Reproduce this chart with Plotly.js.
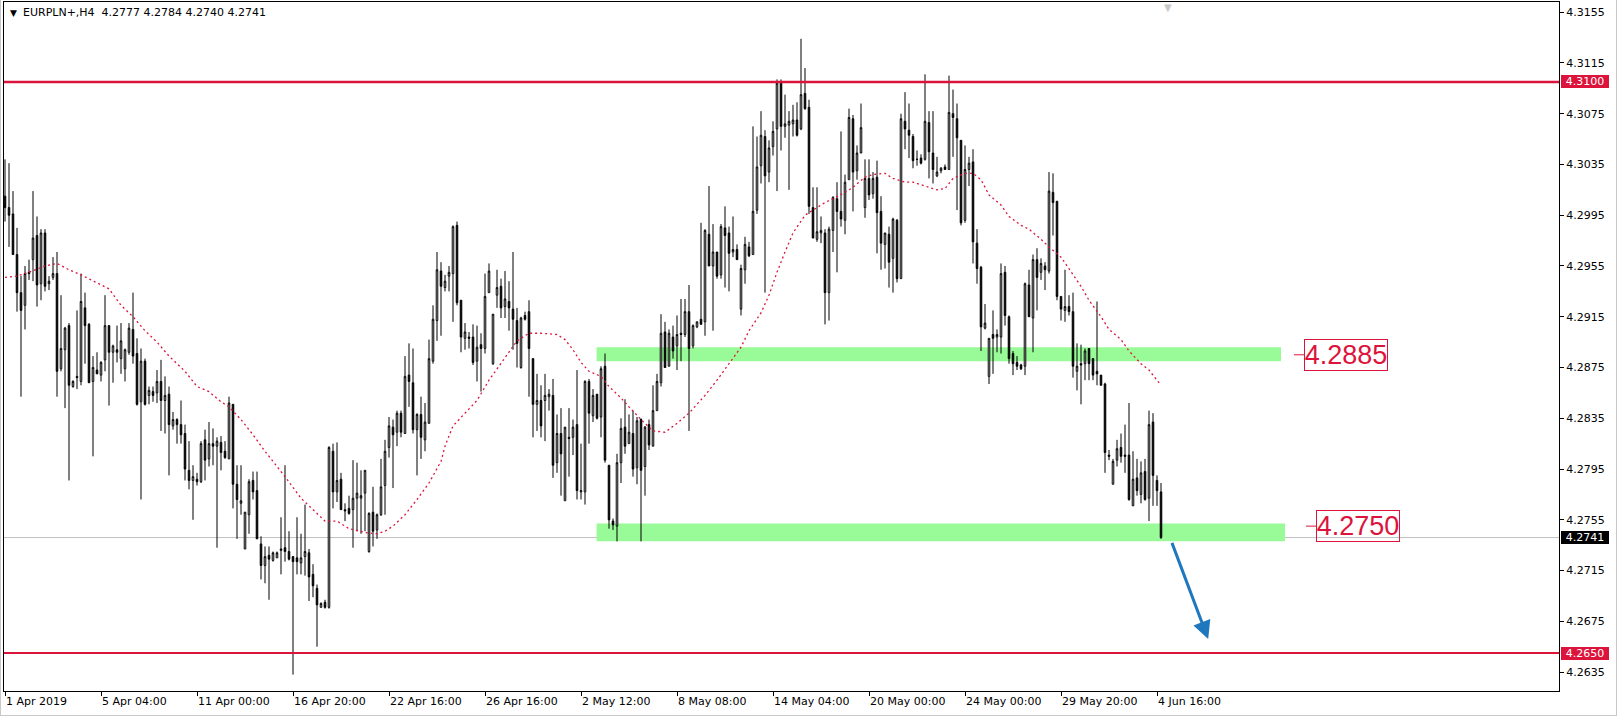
<!DOCTYPE html>
<html><head><meta charset="utf-8">
<script src="https://cdn.plot.ly/plotly-3.0.1.min.js"></script>
<style>
html,body{margin:0;padding:0;background:#fff;}
#wrap{position:relative;width:1618px;height:717px;overflow:hidden;}
#chart{position:absolute;left:0;top:0;width:1618px;height:717px;}
#frame{position:absolute;left:0;top:0;width:1617px;height:716px;box-sizing:border-box;border:1px solid #c8c8c8;border-top:none;pointer-events:none;}
</style></head><body>
<div id="wrap"><div id="chart"></div><div id="frame"></div></div>
<script>
const symbolName = 'EURPLN+,H4';

const openP = [
4.3010,4.3001,4.2996,4.2964,4.2934,4.2924,4.2950,4.2960,4.2979,4.2941,
4.2981,4.2941,4.2946,4.2949,4.2874,4.2889,4.2908,4.2860,4.2868,4.2864,
4.2922,4.2909,4.2864,4.2873,4.2869,4.2881,4.2908,4.2887,4.2889,4.2882,
4.2874,4.2887,4.2905,4.2886,4.2848,4.2880,4.2853,4.2856,4.2855,4.2864,
4.2849,4.2854,4.2829,4.2834,4.2830,4.2823,4.2794,4.2786,4.2787,4.2785,
4.2818,4.2803,4.2815,4.2813,4.2816,4.2809,4.2803,4.2846,4.2783,4.2768,
4.2732,4.2759,4.2786,4.2778,4.2736,4.2719,4.2727,4.2723,4.2725,4.2732,
4.2733,4.2730,4.2726,4.2725,4.2721,4.2726,4.2729,4.2712,4.2701,4.2686,
4.2690,4.2686,4.2809,4.2777,4.2787,4.2763,4.2764,4.2763,4.2772,4.2772,
4.2776,4.2730,4.2761,4.2747,4.2759,4.2782,4.2812,4.2828,4.2824,4.2839,
4.2823,4.2869,4.2863,4.2826,4.2838,4.2818,4.2831,4.2880,4.2912,4.2951,
4.2938,4.2947,4.2949,4.2987,4.2928,4.2898,4.2899,4.2899,4.2880,4.2893,
4.2890,4.2934,4.2878,4.2932,4.2939,4.2923,4.2927,4.2921,4.2912,4.2875,
4.2916,4.2919,4.2882,4.2846,4.2849,4.2849,4.2852,4.2853,4.2800,4.2823,
4.2770,4.2820,4.2820,4.2830,4.2777,4.2777,4.2864,4.2837,4.2854,4.2836,
4.2876,4.2798,4.2754,4.2750,4.2800,4.2828,4.2815,4.2823,4.2796,4.2834,
4.2797,4.2830,4.2813,4.2841,4.2863,4.2903,4.2876,4.2899,4.2892,4.2902,
4.2901,4.2919,4.2892,4.2907,4.2913,4.2911,4.2980,4.2955,4.2966,4.2948,
4.2985,4.2981,4.2966,4.2968,4.2921,4.2952,4.2970,4.2964,4.2999,4.3034,
4.3057,4.3029,4.3049,4.3063,4.3100,4.3065,4.3066,4.3067,4.3070,4.3063,
4.3091,4.3080,4.3001,4.2976,4.2981,4.2981,4.2934,4.2983,4.3008,4.2998,
4.2991,4.3023,4.3071,4.3030,4.3044,4.3001,4.3024,4.3012,4.3025,4.2998,
4.2972,4.2980,4.2961,4.2991,4.2945,4.3069,4.3062,4.3057,4.3039,4.3040,
4.3039,4.3068,4.3044,4.3026,4.3030,4.3033,4.3031,4.3075,4.3071,4.3054,
4.2991,4.3031,4.3037,4.2973,4.2954,4.2906,4.2868,4.2901,4.2899,4.2899,
4.2950,4.2915,4.2886,4.2879,4.2877,4.2876,4.2940,4.2914,4.2960,4.2950,
4.2955,4.2951,4.3013,4.3006,4.2931,4.2920,4.2923,4.2919,4.2872,4.2878,
4.2878,4.2890,4.2882,4.2872,4.2869,4.2862,4.2806,4.2783,4.2802,4.2812,
4.2806,4.2806,4.2766,4.2788,4.2775,4.2793,4.2772,4.2832,4.2786,4.2777];

const highP = [
4.3039,4.3036,4.3014,4.2985,4.2947,4.2955,4.2960,4.3014,4.2994,4.2984,
4.2984,4.2947,4.2962,4.2966,4.2932,4.2907,4.2910,4.2865,4.2920,4.2949,
4.2934,4.2910,4.2884,4.2887,4.2880,4.2932,4.2908,4.2893,4.2908,4.2910,
4.2890,4.2910,4.2934,4.2898,4.2890,4.2882,4.2860,4.2860,4.2873,4.2881,
4.2868,4.2860,4.2840,4.2835,4.2849,4.2830,4.2817,4.2798,4.2792,4.2817,
4.2826,4.2832,4.2827,4.2820,4.2821,4.2817,4.2852,4.2846,4.2798,4.2798,
4.2761,4.2787,4.2793,4.2793,4.2742,4.2734,4.2734,4.2730,4.2730,4.2757,
4.2798,4.2746,4.2726,4.2757,4.2744,4.2767,4.2732,4.2720,4.2704,4.2690,
4.2692,4.2813,4.2815,4.2816,4.2792,4.2768,4.2774,4.2802,4.2800,4.2794,
4.2794,4.2761,4.2781,4.2760,4.2803,4.2818,4.2836,4.2834,4.2841,4.2841,
4.2884,4.2894,4.2890,4.2839,4.2852,4.2847,4.2897,4.2924,4.2966,4.2958,
4.2948,4.2955,4.2987,4.2990,4.2928,4.2910,4.2903,4.2909,4.2908,4.2902,
4.2949,4.2957,4.2917,4.2952,4.2945,4.2951,4.2943,4.2966,4.2922,4.2915,
4.2919,4.2928,4.2882,4.2870,4.2861,4.2870,4.2858,4.2866,4.2838,4.2843,
4.2828,4.2843,4.2834,4.2873,4.2815,4.2865,4.2866,4.2858,4.2854,4.2876,
4.2886,4.2798,4.2756,4.2807,4.2835,4.2850,4.2838,4.2841,4.2836,4.2835,
4.2829,4.2834,4.2861,4.2870,4.2917,4.2911,4.2905,4.2908,4.2916,4.2929,
4.2929,4.2940,4.2909,4.2911,4.2989,4.2984,4.3018,4.2988,4.2966,4.2988,
4.3002,4.2986,4.2994,4.2972,4.2956,4.2978,4.2974,4.3065,4.3057,4.3077,
4.3062,4.3054,4.3069,4.3102,4.3102,4.3090,4.3077,4.3082,4.3084,4.3134,
4.3111,4.3086,4.3017,4.3017,4.2994,4.2984,4.2986,4.3010,4.3021,4.3061,
4.3027,4.3079,4.3074,4.3050,4.3083,4.3039,4.3039,4.3029,4.3038,4.3010,
4.2981,4.2986,4.2993,4.2992,4.3075,4.3092,4.3083,4.3059,4.3046,4.3043,
4.3106,4.3077,4.3077,4.3041,4.3033,4.3035,4.3105,4.3094,4.3083,4.3054,
4.3050,4.3041,4.3047,4.2984,4.2955,4.2925,4.2898,4.2920,4.2905,4.2957,
4.2955,4.2916,4.2888,4.2884,4.2878,4.2942,4.2952,4.2964,4.2969,4.2961,
4.2958,4.3029,4.3028,4.3006,4.2931,4.2952,4.2932,4.2934,4.2894,4.2893,
4.2890,4.2890,4.2882,4.2927,4.2869,4.2863,4.2810,4.2803,4.2818,4.2823,
4.2830,4.2847,4.2809,4.2803,4.2801,4.2803,4.2841,4.2839,4.2790,4.2784];

const lowP = [
4.2990,4.2970,4.2964,4.2919,4.2852,4.2905,4.2944,4.2943,4.2923,4.2928,
4.2935,4.2936,4.2944,4.2852,4.2872,4.2843,4.2786,4.2859,4.2858,4.2861,
4.2878,4.2863,4.2805,4.2870,4.2864,4.2872,4.2845,4.2863,4.2879,4.2870,
4.2864,4.2885,4.2878,4.2845,4.2771,4.2845,4.2846,4.2848,4.2847,4.2825,
4.2823,4.2790,4.2826,4.2815,4.2815,4.2786,4.2779,4.2755,4.2782,4.2784,
4.2786,4.2797,4.2798,4.2733,4.2794,4.2803,4.2803,4.2764,4.2740,4.2759,
4.2732,4.2744,4.2771,4.2740,4.2708,4.2705,4.2692,4.2722,4.2725,4.2712,
4.2722,4.2723,4.2633,4.2712,4.2712,4.2711,4.2691,4.2694,4.2655,4.2686,
4.2685,4.2685,4.2764,4.2769,4.2763,4.2754,4.2759,4.2733,4.2746,4.2744,
4.2746,4.2729,4.2734,4.2740,4.2758,4.2759,4.2804,4.2780,4.2813,4.2820,
4.2823,4.2844,4.2823,4.2790,4.2803,4.2809,4.2831,4.2878,4.2896,4.2900,
4.2935,4.2935,4.2911,4.2924,4.2887,4.2889,4.2890,4.2877,4.2864,4.2856,
4.2886,4.2934,4.2877,4.2922,4.2914,4.2914,4.2904,4.2889,4.2875,4.2874,
4.2912,4.2852,4.2820,4.2825,4.2820,4.2817,4.2841,4.2788,4.2792,4.2774,
4.2770,4.2789,4.2806,4.2771,4.2771,4.2767,4.2815,4.2832,4.2834,4.2820,
4.2800,4.2748,4.2747,4.2738,4.2784,4.2807,4.2815,4.2789,4.2783,4.2738,
4.2774,4.2810,4.2813,4.2841,4.2860,4.2875,4.2876,4.2882,4.2873,4.2880,
4.2899,4.2825,4.2890,4.2906,4.2909,4.2900,4.2955,4.2904,4.2945,4.2945,
4.2938,4.2935,4.2962,4.2960,4.2916,4.2941,4.2962,4.2964,4.2996,4.3020,
4.2934,4.3021,4.3042,4.3014,4.3046,4.3056,4.3015,4.3057,4.3057,4.3062,
4.3078,4.2996,4.2977,4.2974,4.2973,4.2909,4.2912,4.2966,4.2950,4.2986,
4.2980,4.3023,4.2998,4.3023,4.3044,4.2993,4.3007,4.3008,4.2965,4.2952,
4.2953,4.2938,4.2934,4.2942,4.2945,4.3047,4.3040,4.3032,4.3034,4.3035,
4.3038,4.3024,4.3020,4.3025,4.3028,4.3031,4.3031,4.3041,4.2999,4.2987,
4.2989,4.3018,4.2957,4.2941,4.2888,4.2905,4.2862,4.2870,4.2887,4.2886,
4.2908,4.2878,4.2869,4.2873,4.2873,4.2869,4.2915,4.2887,4.2920,4.2944,
4.2936,4.2949,4.2979,4.2928,4.2912,4.2911,4.2916,4.2867,4.2857,4.2846,
4.2865,4.2865,4.2865,4.2861,4.2861,4.2792,4.2802,4.2783,4.2797,4.2800,
4.2792,4.2770,4.2766,4.2774,4.2768,4.2770,4.2754,4.2766,4.2766,4.2740];

const closeP = [
4.3001,4.2995,4.2964,4.2934,4.2920,4.2949,4.2949,4.2977,4.2940,4.2981,
4.2939,4.2943,4.2949,4.2872,4.2890,4.2906,4.2861,4.2864,4.2867,4.2927,
4.2908,4.2863,4.2875,4.2870,4.2879,4.2908,4.2887,4.2892,4.2887,4.2896,
4.2889,4.2906,4.2884,4.2846,4.2880,4.2846,4.2857,4.2853,4.2864,4.2849,
4.2853,4.2830,4.2834,4.2830,4.2822,4.2795,4.2786,4.2789,4.2785,4.2815,
4.2802,4.2815,4.2813,4.2817,4.2808,4.2804,4.2847,4.2783,4.2771,4.2770,
4.2761,4.2785,4.2777,4.2740,4.2719,4.2726,4.2724,4.2729,4.2729,4.2731,
4.2730,4.2724,4.2722,4.2722,4.2725,4.2730,4.2710,4.2703,4.2688,4.2689,
4.2686,4.2812,4.2777,4.2786,4.2763,4.2762,4.2760,4.2772,4.2776,4.2774,
4.2794,4.2760,4.2746,4.2759,4.2781,4.2809,4.2829,4.2822,4.2839,4.2824,
4.2868,4.2864,4.2826,4.2838,4.2820,4.2832,4.2882,4.2913,4.2952,4.2939,
4.2943,4.2950,4.2986,4.2926,4.2899,4.2903,4.2898,4.2879,4.2891,4.2890,
4.2931,4.2951,4.2917,4.2938,4.2922,4.2929,4.2922,4.2913,4.2894,4.2914,
4.2913,4.2890,4.2846,4.2849,4.2829,4.2853,4.2854,4.2798,4.2823,4.2807,
4.2828,4.2819,4.2828,4.2778,4.2778,4.2864,4.2839,4.2853,4.2835,4.2874,
4.2802,4.2755,4.2751,4.2800,4.2827,4.2813,4.2824,4.2795,4.2833,4.2794,
4.2828,4.2814,4.2841,4.2864,4.2902,4.2875,4.2902,4.2888,4.2901,4.2901,
4.2919,4.2890,4.2908,4.2911,4.2909,4.2983,4.2955,4.2966,4.2947,4.2986,
4.2979,4.2965,4.2968,4.2960,4.2953,4.2972,4.2963,4.2998,4.3033,4.3058,
4.3026,4.3048,4.3061,4.3099,4.3065,4.3067,4.3069,4.3070,4.3058,4.3090,
4.3079,4.3002,4.2977,4.2982,4.2983,4.2934,4.2984,4.3009,4.2998,4.2992,
4.3021,4.3072,4.3029,4.3044,4.3064,4.3024,4.3011,4.3024,4.2997,4.2973,
4.2981,4.2958,4.2992,4.2945,4.3071,4.3063,4.3058,4.3038,4.3039,4.3036,
4.3069,4.3045,4.3031,4.3029,4.3032,4.3031,4.3076,4.3072,4.3056,4.2989,
4.3031,4.3036,4.2974,4.2953,4.2907,4.2910,4.2898,4.2898,4.2901,4.2949,
4.2916,4.2882,4.2878,4.2876,4.2874,4.2941,4.2915,4.2960,4.2946,4.2957,
4.2952,4.3014,4.3005,4.2931,4.2921,4.2923,4.2919,4.2876,4.2876,4.2877,
4.2888,4.2878,4.2869,4.2870,4.2861,4.2808,4.2805,4.2801,4.2811,4.2805,
4.2805,4.2771,4.2787,4.2778,4.2792,4.2771,4.2830,4.2790,4.2778,4.2741];

// moving average: bar index, value
const maBars = [0,3,6,10,13,16,19,22,26,29,32,35,38,41,45,48,51,54,56,59,62,65,67,70,74,77,80,83,86,90,93,95,97,100,103,106,109,110,112,115,118,121,125,128,131,134,138,140,142,144,146,149,151,154,156,159,162,165,168,171,175,178,181,184,186,189,191,193,195,197,200,205,207,210,212,215,217,220,222,225,227,230,233,235,237,240,242,244,246,249,251,254,256,259,261,264,266,269,271,274,276,279,281,284,286,289];
const maVals = [4.2946,4.2947,4.2950,4.2955,4.2957,4.2952,4.2948,4.2943,4.2937,4.2924,4.2915,4.2904,4.2895,4.2884,4.2872,4.2860,4.2856,4.2848,4.2844,4.2834,4.2822,4.2809,4.2801,4.2789,4.2772,4.2763,4.2754,4.2754,4.2748,4.2745,4.2744,4.2746,4.2750,4.2759,4.2771,4.2784,4.2801,4.2813,4.2829,4.2839,4.2849,4.2865,4.2883,4.2896,4.2902,4.2902,4.2901,4.2897,4.2889,4.2879,4.2872,4.2868,4.2860,4.2851,4.2844,4.2834,4.2825,4.2824,4.2831,4.2839,4.2853,4.2865,4.2878,4.2891,4.2904,4.2918,4.2932,4.2950,4.2966,4.2981,4.2995,4.3005,4.3008,4.3013,4.3017,4.3025,4.3027,4.3028,4.3024,4.3021,4.3021,4.3018,4.3015,4.3016,4.3024,4.3028,4.3028,4.3023,4.3011,4.3003,4.2994,4.2987,4.2984,4.2976,4.2970,4.2962,4.2953,4.2939,4.2928,4.2915,4.2905,4.2897,4.2888,4.2878,4.2873,4.2861];

const timeTickBars = [0,24,48,72,96,120,144,168,192,216,240,264,288];
const timeTickText = ['1 Apr 2019','5 Apr 04:00','11 Apr 00:00','16 Apr 20:00','22 Apr 16:00','26 Apr 16:00','2 May 12:00','8 May 08:00','14 May 04:00','20 May 00:00','24 May 00:00','29 May 20:00','4 Jun 16:00'];
const priceTicks = [4.2635,4.2675,4.2715,4.2755,4.2795,4.2835,4.2875,4.2915,4.2955,4.2995,4.3035,4.3075,4.3115,4.3155];

// drawn objects
const resistanceLevels = [4.3100, 4.2650];
const zoneLabels = [4.2885, 4.2750];
const zoneTop = [4.2891, 4.2752];
const zoneBottom = [4.2880, 4.2738];
const zoneStartBar = [147.9, 147.9];
const zoneEndBar = [319, 320];
const arrowFrom = [291.6, 4.2738];
const arrowTo = [300.8, 4.2661];

const n = closeP.length;
const idx = Array.from({length:n}, (_, i) => i);
const last = n - 1;
const RED = '#DC143C';

const traces = [
  {type:'scatter', mode:'lines', x:maBars, y:maVals, line:{color:RED, width:1.3, dash:'2px,3px'}, hoverinfo:'skip'},
  {type:'candlestick', x:idx, open:openP, high:highP, low:lowP, close:closeP,
   increasing:{line:{color:'#000', width:1}, fillcolor:'#ffffff'},
   decreasing:{line:{color:'#000', width:1}, fillcolor:'#000000'},
   whiskerwidth:0, hoverinfo:'skip'}
];

const shapes = [];
for (let k = 0; k < zoneTop.length; k++) {
  shapes.push({type:'rect', xref:'x', yref:'y', x0:zoneStartBar[k], x1:zoneEndBar[k], y0:zoneBottom[k], y1:zoneTop[k],
    fillcolor:'#98FB98', line:{width:0}, layer:'below'});
}
shapes.push({type:'line', xref:'paper', yref:'y', x0:0, x1:1, y0:closeP[last], y1:closeP[last], line:{color:'#C0C0C0', width:1}, layer:'below'});
resistanceLevels.forEach((v, k) => {
  shapes.push({type:'line', xref:'paper', yref:'y', x0:0, x1:1, y0:v, y1:v, line:{color:RED, width:k === 0 ? 2.5 : 2}});
});
const leader = [[322.25, 324.75], [325.25, 327.75]];
zoneLabels.forEach((v, k) => {
  shapes.push({type:'line', xref:'x', yref:'y', x0:leader[k][0], x1:leader[k][1], y0:v, y1:v, line:{color:RED, width:1}});
});

const annotations = [];
annotations.push({xref:'paper', yref:'paper', x:0, y:1, xanchor:'left', yanchor:'top', xshift:4, yshift:-4, showarrow:false,
  text:'▼', font:{family:'DejaVu Sans', size:9, color:'#000'}});
annotations.push({xref:'paper', yref:'paper', x:0, y:1, xanchor:'left', yanchor:'top', xshift:17, yshift:-2, showarrow:false,
  text:symbolName + '  ' + [openP[last], highP[last], lowP[last], closeP[last]].map(v => v.toFixed(4)).join(' '),
  font:{family:'DejaVu Sans', size:11, color:'#000'}});
const labelBar = [324.75, 327.75];
zoneLabels.forEach((v, k) => {
  annotations.push({xref:'x', yref:'y', x:labelBar[k], y:v, xanchor:'left', yanchor:'middle', showarrow:false,
    text:v.toFixed(4), font:{family:'Liberation Sans', size:27, color:RED},
    bordercolor:RED, borderwidth:1, borderpad:0, width:82, height:30, align:'center'});
});
const tags = [[resistanceLevels[0], RED], [resistanceLevels[1], RED], [closeP[last], '#000000']];
tags.forEach(t => {
  annotations.push({xref:'paper', yref:'y', x:1, y:t[0], xanchor:'left', yanchor:'middle', xshift:2, showarrow:false,
    text:t[0].toFixed(4), font:{family:'DejaVu Sans', size:11, color:'#ffffff'}, bgcolor:t[1],
    width:46, height:11, borderpad:1, borderwidth:0});
});
annotations.push({xref:'x', yref:'y', axref:'x', ayref:'y', x:arrowTo[0], y:arrowTo[1], ax:arrowFrom[0], ay:arrowFrom[1],
  showarrow:true, arrowhead:2, arrowsize:1.2, arrowwidth:3, arrowcolor:'#1F78BE', text:''});
annotations.push({xref:'x', yref:'paper', x:290.75, y:1, xanchor:'center', yanchor:'top', yshift:2, showarrow:false,
  text:'▼', font:{family:'DejaVu Sans', size:10, color:'#C8C8C8'}});

const layout = {
  width:1618, height:717,
  margin:{l:4, r:59, t:2, b:26, pad:0},
  paper_bgcolor:'#ffffff', plot_bgcolor:'#ffffff',
  showlegend:false, boxgap:0.45,
  xaxis:{range:[-0.25, 388.5], showgrid:false, zeroline:false, showline:true, linecolor:'#000', linewidth:1, mirror:true,
    ticks:'outside', ticklen:4, tickcolor:'#000', tickvals:timeTickBars, ticktext:timeTickText,
    ticklabelposition:'outside right', tickfont:{family:'DejaVu Sans', size:11, color:'#000'},
    rangeslider:{visible:false}, fixedrange:true},
  yaxis:{side:'right', range:[4.26201, 4.31630], showgrid:false, zeroline:false, showline:true, linecolor:'#000', linewidth:1, mirror:true,
    ticks:'outside', ticklen:4, tickcolor:'#000', tickvals:priceTicks, ticktext:priceTicks.map(v => v.toFixed(4)),
    tickfont:{family:'DejaVu Sans', size:11, color:'#000'}, fixedrange:true},
  shapes:shapes, annotations:annotations
};

Plotly.newPlot('chart', traces, layout, {staticPlot:true, displayModeBar:false});
</script>
</body></html>
